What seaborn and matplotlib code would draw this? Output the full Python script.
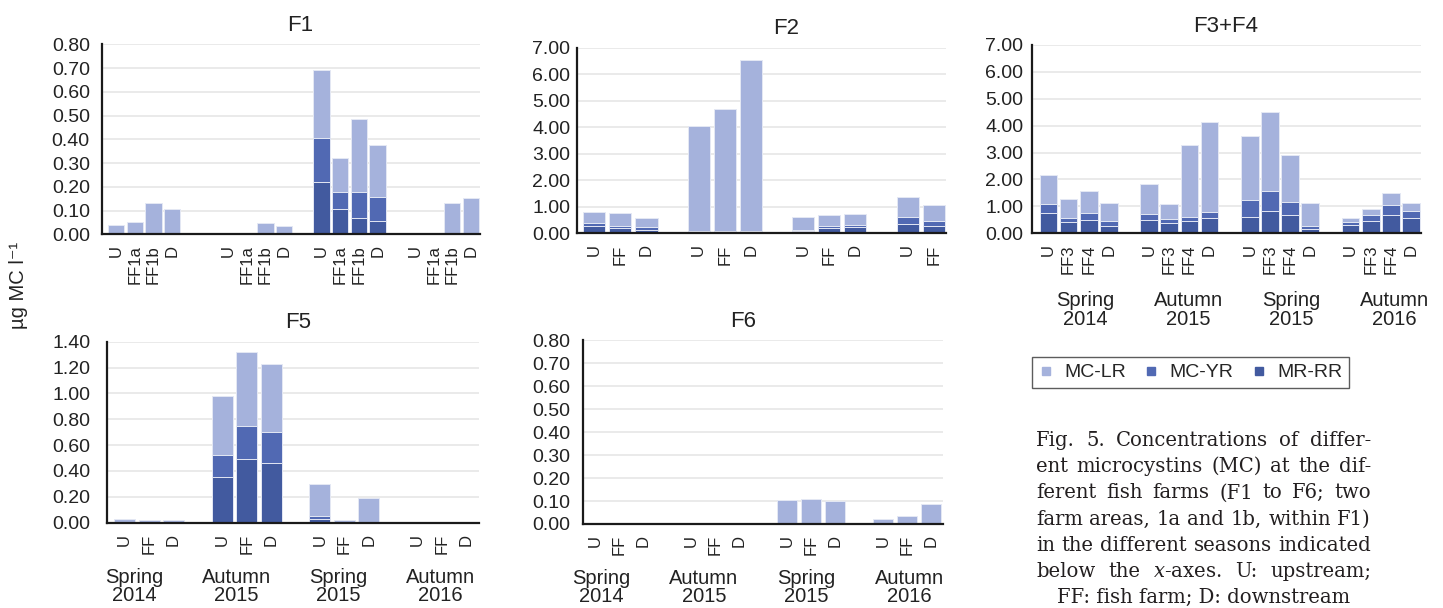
import numpy as np
import pandas as pd
import matplotlib
matplotlib.use('Agg')
import matplotlib.pyplot as plt
from matplotlib.lines import Line2D
from matplotlib.ticker import FormatStrFormatter
import seaborn as sns

sns.set_style('white')
plt.rcParams['font.family'] = ['Liberation Sans', 'DejaVu Sans']
plt.rcParams['mathtext.fontset'] = 'dejavuserif'

# ---- data (µg MC l-1) ----
seasons = ['Spring\n2014', 'Autumn\n2015', 'Spring\n2015', 'Autumn\n2016']
components = ['MC-LR', 'MC-YR', 'MR-RR']
colors = ['#a5b2dc', '#5169b3', '#425a9f']

f1_sites = [['U', 'FF1a', 'FF1b', 'D']] * 4
f1_lr = [0.04, 0.05, 0.13, 0.105, 0, 0, 0.047, 0.036,
         0.285, 0.14, 0.305, 0.22, 0, 0, 0.13, 0.154]
f1_yr = [0, 0, 0, 0, 0, 0, 0, 0,
         0.185, 0.075, 0.11, 0.10, 0, 0, 0, 0]
f1_rr = [0, 0, 0, 0, 0, 0, 0, 0,
         0.22, 0.105, 0.07, 0.058, 0, 0, 0, 0]

f2_sites = [['U', 'FF', 'D'], ['U', 'FF', 'D'], ['U', 'FF', 'D'], ['U', 'FF']]
f2_lr = [0.40, 0.50, 0.34, 3.93, 4.59, 6.42, 0.48, 0.39, 0.42, 0.73, 0.61]
f2_yr = [0.13, 0.09, 0.10, 0.04, 0.04, 0.04, 0.06, 0.08, 0.06, 0.27, 0.20]
f2_rr = [0.26, 0.19, 0.14, 0.06, 0.06, 0.06, 0.08, 0.21, 0.25, 0.36, 0.26]

f34_sites = [['U', 'FF3', 'FF4', 'D']] * 4
f34_lr = [1.08, 0.70, 0.85, 0.66, 1.11, 0.54, 2.66, 3.36,
          2.37, 2.93, 1.75, 0.85, 0.16, 0.24, 0.45, 0.30]
f34_yr = [0.36, 0.17, 0.26, 0.19, 0.21, 0.15, 0.16, 0.23,
          0.62, 0.75, 0.48, 0.12, 0.10, 0.23, 0.38, 0.28]
f34_rr = [0.74, 0.41, 0.48, 0.28, 0.51, 0.40, 0.45, 0.56,
          0.62, 0.82, 0.67, 0.15, 0.31, 0.45, 0.67, 0.56]

f5_sites = [['U', 'FF', 'D']] * 4
f5_lr = [0.026, 0.023, 0.018, 0.46, 0.57, 0.53, 0.25, 0.02, 0.19, 0, 0, 0]
f5_yr = [0, 0, 0, 0.17, 0.26, 0.24, 0.02, 0, 0, 0, 0, 0]
f5_rr = [0, 0, 0, 0.35, 0.49, 0.46, 0.03, 0, 0, 0, 0, 0]

f6_sites = [['U', 'FF', 'D']] * 4
f6_lr = [0, 0, 0, 0, 0, 0, 0.105, 0.11, 0.10, 0.02, 0.035, 0.086]
f6_yr = [0] * 12
f6_rr = [0] * 12

# ---- layout ----
W, H = 1443, 608
fig = plt.figure(figsize=(W / 100, H / 100), dpi=100)


def px_rect(l, t, r, b):
    return [l / W, 1 - b / H, (r - l) / W, (b - t) / H]


def draw_panel(rect, title, title_x, sites, lr, yr, rr, gaps, ymax, ystep,
               bar_w, xpad, ypad, season_shift=None, season_drop=0):
    ax = fig.add_axes(px_rect(*rect))
    pos, centers, x = [], [], 0
    for g, grp in enumerate(sites):
        start = x
        for s in grp:
            pos.append(x)
            x += 1
        centers.append((start + x - 1) / 2)
        if g < len(gaps):
            x += gaps[g]
    df = pd.DataFrame({'pos': pos, 'site': sum(sites, []),
                       'LR': lr, 'YR': yr, 'RR': rr})
    df['top'] = df['LR'] + df['YR'] + df['RR']
    df['mid'] = df['YR'] + df['RR']
    for col, c in zip(['top', 'mid', 'RR'], colors):
        sns.barplot(data=df, x='pos', y=col, native_scale=True, width=bar_w,
                    color=c, saturation=1, edgecolor='#e4e8f4', linewidth=0.7,
                    errorbar=None, ax=ax)
    ax.set_xticks(pos)
    ax.set_xticklabels(df['site'], rotation=90, fontsize=12, color='#222222')
    ax.set_xlim(pos[0] - xpad[0], pos[-1] + xpad[1])
    ax.set_ylim(0, ymax)
    ax.set_yticks(np.arange(0, ymax + ystep / 2, ystep))
    ax.yaxis.set_major_formatter(FormatStrFormatter('%.2f'))
    ax.tick_params(axis='y', length=0, pad=ypad, labelsize=14, labelcolor='#222222')
    ax.tick_params(axis='x', length=0, pad=8)
    ax.set_xlabel('')
    ax.set_ylabel('')
    ax.yaxis.grid(True, color='#e8e8e8', lw=1.3)
    ax.set_axisbelow(True)
    for s in ['top', 'right']:
        ax.spines[s].set_visible(False)
    for s in ['left', 'bottom']:
        ax.spines[s].set_color('#1a1a1a')
        ax.spines[s].set_linewidth(1.6)
    ax.annotate(title, xy=(title_x, 1), xycoords='axes fraction',
                xytext=(0, 13.5), textcoords='offset points',
                ha='center', va='center', fontsize=16, color='#222222')
    if season_shift is not None:
        a, b = season_shift
        for i, (c, lab) in enumerate(zip(centers, seasons)):
            ax.annotate(lab, xy=(c + a + b * i, 0), xycoords=('data', 'axes fraction'),
                        xytext=(0, -season_drop * 0.72), textcoords='offset points',
                        ha='center', va='top', fontsize=14.5, linespacing=0.95,
                        color='#222222', annotation_clip=False)
    return ax


draw_panel((101.7, 44.3, 480, 234.3), 'F1', 0.524, f1_sites, f1_lr, f1_yr, f1_rr,
           [2, 1, 1], 0.8, 0.1, 0.87, (0.77, 0.48), 8.6)
draw_panel((577.3, 47.7, 946, 233.3), 'F2', 0.566, f2_sites, f2_lr, f2_yr, f2_rr,
           [1, 1, 1], 7.0, 1.0, 0.85, (0.65, 0.47), 5)
draw_panel((1032.3, 45, 1420.7, 233.3), 'F3+F4', 0.497, f34_sites, f34_lr, f34_yr, f34_rr,
           [1, 1, 1], 7.0, 1.0, 0.88, (0.8, 0.48), 6.5, (0.33, 0.11), 58)
draw_panel((107.3, 341.7, 479, 522.7), 'F5', 0.513, f5_sites, f5_lr, f5_yr, f5_rr,
           [1, 1, 1], 1.4, 0.2, 0.86, (0.71, 0.52), 12, (-0.62, 0.19), 45)
draw_panel((582.7, 340.3, 942.7, 524), 'F6', 0.445, f6_sites, f6_lr, f6_yr, f6_rr,
           [1, 1, 1], 0.8, 0.1, 0.85, (0.54, 0.5), 8.8, (-0.78, 0.3), 45)

fig.text(19 / W, 1 - 285 / H, 'µg MC l⁻¹', rotation=90, ha='center', va='center',
         fontsize=14.5, color='#222222')

handles = [Line2D([], [], marker='s', ls='', color=c, markersize=5.5) for c in colors]
leg = fig.legend(handles, components, loc='center', ncol=3,
                 bbox_to_anchor=(1190.5 / W, 1 - 372.5 / H), fontsize=14,
                 frameon=True, fancybox=False, edgecolor='#333333',
                 handlelength=0.7, handletextpad=0.6, columnspacing=0.95,
                 borderpad=0.35)
leg.get_frame().set_linewidth(1.0)

# ---- caption, justified ----
cap_lines = ['Fig. 5. Concentrations of differ-',
             'ent microcystins (MC) at the dif-',
             'ferent fish farms (F1 to F6; two',
             'farm areas, 1a and 1b, within F1)',
             'in the different seasons indicated',
             'below the $x$-axes. U: upstream;',
             'FF: fish farm; D: downstream']
cap_left, cap_right = 1036, 1371
cap_base0, cap_step = 446, 26.2

fig.canvas.draw()
renderer = fig.canvas.get_renderer()
probe = fig.text(0, 0, cap_lines[4], fontsize=10, family='DejaVu Serif')
cap_size = 10 * (cap_right - cap_left) / probe.get_window_extent(renderer).width
probe.remove()

for i, line in enumerate(cap_lines):
    y = 1 - (cap_base0 + i * cap_step) / H
    if i == len(cap_lines) - 1:
        fig.text((cap_left + cap_right) / 2 / W, y, line, ha='center', va='baseline',
                 fontsize=cap_size, family='DejaVu Serif', color='#231f20')
        continue
    words = line.split(' ')
    arts = [fig.text(0, y, w, ha='left', va='baseline', fontsize=cap_size,
                     family='DejaVu Serif', color='#231f20') for w in words]
    widths = [a.get_window_extent(renderer).width for a in arts]
    gap = (cap_right - cap_left - sum(widths)) / (len(words) - 1)
    x = cap_left
    for a, w in zip(arts, widths):
        a.set_x(x / W)
        x += w + gap

fig.savefig('out.png', dpi=100)
